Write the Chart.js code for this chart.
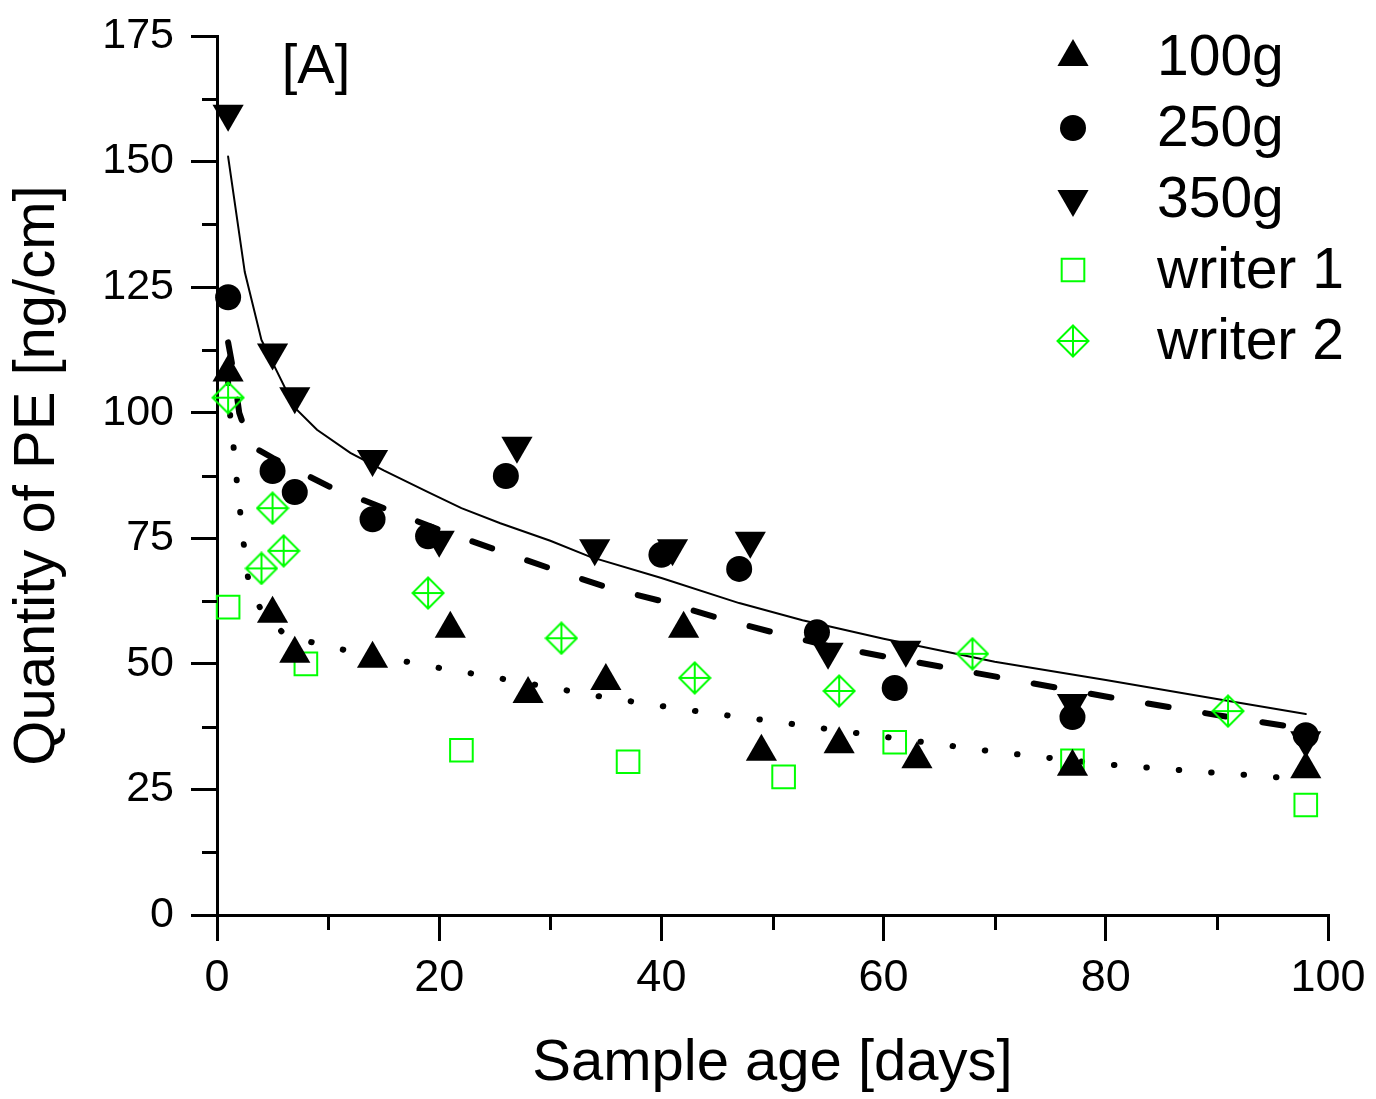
<!DOCTYPE html>
<html lang="en">
  <head>
    <meta charset="UTF-8" />
    <title>Quantity of PE vs sample age</title>
    <script src="https://cdn.jsdelivr.net/npm/chart.js"></script>
    <style>
      html, body { margin: 0; padding: 0; background: #fff; }
      #wrap { width: 1376px; height: 1099px; }
    </style>
  </head>
  <body>
    <div id="wrap"><canvas id="peChart" width="1376" height="1099"></canvas></div>

    <script>
      // Measured points (day, ng/cm)
      const days100 = [1, 5, 7, 14, 21, 28, 35, 42, 49, 56, 63, 77, 98];
      const pe100 = [108, 60, 52, 51, 57, 44, 46.6, 57, 32.5, 34, 31, 29.5, 29];

      const days250 = [1, 5, 7, 14, 19, 26, 40, 47, 54, 61, 77, 98];
      const pe250 = [123, 88.4, 84.2, 78.8, 75.4, 87.4, 71.7, 68.9, 56.3, 45.2, 39.4, 35.8];

      const days350 = [1, 5, 7, 14, 20, 27, 34, 41, 48, 55, 62, 77, 98];
      const pe350 = [159.5, 112, 103.3, 90.8, 74.7, 93.4, 73, 73, 74.5, 52.4, 52.8, 42.2, 34.8];

      const daysW1 = [1, 8, 22, 37, 51, 61, 77, 98];
      const peW1 = [61.3, 50, 32.8, 30.5, 27.5, 34.4, 30.7, 21.9];

      const daysW2 = [1, 4, 5, 6, 19, 31, 43, 56, 68, 91];
      const peW2 = [103, 69, 81, 72.5, 64.1, 55.1, 47.2, 44.6, 52, 40.6];

      // Fitted curves
      const fitDays350 = [1, 2.5, 4, 7, 9, 12, 15, 19, 22, 25.5, 30, 33.6, 40, 47, 52.7, 60, 70, 80, 90, 98];
      const fit350 = [151, 128, 114.5, 101, 96.6, 92, 88.5, 84.2, 81, 78, 74.5, 71.3, 67.1, 62.1, 58.7, 55, 50.4, 46.8, 43, 40];

      const fitDays250 = [1, 1.5, 2, 3, 5, 10, 15, 20, 25, 30, 35, 40, 45, 50, 55, 60, 70, 80, 90, 98];
      const fit250 = [114, 108, 100, 93.5, 91, 85.4, 81, 76.7, 72.8, 69, 65.3, 62.5, 59.2, 56.3, 53.6, 51.5, 47.5, 43.5, 39.8, 37];

      const fitDays100 = [1, 1.2, 1.5, 1.8, 2.1, 2.4, 2.8, 3.9, 6, 9, 12, 15, 20, 25, 30, 35, 40, 45, 50, 55, 60, 70, 80, 90, 98];
      const fit100 = [106, 99, 93, 86, 80, 74, 67, 61, 56, 54, 52.5, 51.3, 49.2, 47.3, 45.3, 43.3, 41.6, 40, 38.6, 37, 35.5, 32.5, 30, 28.3, 27];

      // Axis ticks
      const yMinorTicks = [12.5, 37.5, 62.5, 87.5, 112.5, 137.5, 162.5];
      const xMinorTicks = [10, 30, 50, 70, 90];

      const FONT = "'Liberation Sans', Arial, sans-serif";
      const GREEN = '#00ff00';

      const toXY = (xs, ys) => xs.map((x, i) => ({ x: x, y: ys[i] }));

      // diamond with a cross inside, used for writer 2
      function makeDiamond(size) {
        const c = document.createElement('canvas');
        c.width = c.height = size;
        const g = c.getContext('2d');
        const h = size / 2, r = h - 1.5;
        g.strokeStyle = GREEN;
        g.lineWidth = 2;
        g.beginPath();
        g.moveTo(h, h - r); g.lineTo(h + r, h); g.lineTo(h, h + r); g.lineTo(h - r, h); g.closePath();
        g.moveTo(h, h - r); g.lineTo(h, h + r);
        g.moveTo(h - r, h); g.lineTo(h + r, h);
        g.stroke();
        return c;
      }
      const diamondImg = makeDiamond(34);

      const markerSet = (label, xs, ys, style) => Object.assign({
        label: label,
        data: toXY(xs, ys),
        showLine: false,
        borderWidth: 0,
        backgroundColor: '#000',
        borderColor: '#000',
        pointBorderWidth: 0,
        clip: false
      }, style);

      const fitSet = (xs, ys, width, dash) => ({
        label: '',
        data: toXY(xs, ys),
        showLine: true,
        borderColor: '#000',
        borderWidth: width,
        borderDash: dash,
        borderCapStyle: 'round',
        pointRadius: 0,
        tension: 0,
        fill: false
      });

      // minor ticks, legend and panel tag
      const extras = {
        id: 'extras',
        afterDraw(chart) {
          const ctx = chart.ctx;
          const xs = chart.scales.x, ys = chart.scales.y;
          ctx.save();
          ctx.strokeStyle = '#000';
          ctx.lineWidth = 3;
          ctx.lineCap = 'butt';
          yMinorTicks.forEach(v => {
            const py = Math.round(ys.getPixelForValue(v)) + 0.5;
            ctx.beginPath(); ctx.moveTo(ys.right - 15, py); ctx.lineTo(ys.right, py); ctx.stroke();
          });
          xMinorTicks.forEach(v => {
            const px = Math.round(xs.getPixelForValue(v)) + 0.5;
            ctx.beginPath(); ctx.moveTo(px, xs.top); ctx.lineTo(px, xs.top + 15); ctx.stroke();
          });

          ctx.fillStyle = '#000';
          ctx.font = '56px ' + FONT;
          ctx.textAlign = 'center';
          ctx.textBaseline = 'middle';
          ctx.fillText('[A]', 316, 68);

          // legend
          ctx.textAlign = 'left';
          ctx.font = '57px ' + FONT;
          for (let i = 0; i < 5; i++) {
            const ds = chart.data.datasets[i];
            const y = 57 + i * 71;
            const opts = {
              pointStyle: ds.pointStyle,
              radius: ds.pointRadius,
              rotation: ds.pointRotation || 0,
              borderWidth: ds.pointBorderWidth
            };
            ctx.fillStyle = ds.backgroundColor;
            ctx.strokeStyle = ds.borderColor;
            ctx.lineWidth = ds.pointBorderWidth;
            Chart.helpers.drawPoint(ctx, opts, 1073, y);
            ctx.fillStyle = '#000';
            ctx.fillText(ds.label, 1157, y + 2);
          }
          ctx.restore();
        }
      };

      new Chart(document.getElementById('peChart'), {
        type: 'scatter',
        data: {
          datasets: [
            markerSet('100g', days100, pe100, { pointStyle: 'triangle', pointRadius: 18 }),
            markerSet('250g', days250, pe250, { pointStyle: 'circle', pointRadius: 13 }),
            markerSet('350g', days350, pe350, { pointStyle: 'triangle', pointRadius: 18, pointRotation: 180 }),
            markerSet('writer 1', daysW1, peW1, {
              pointStyle: 'rect', pointRadius: 16, backgroundColor: 'rgba(0,0,0,0)',
              borderColor: GREEN, pointBorderWidth: 2
            }),
            markerSet('writer 2', daysW2, peW2, {
              pointStyle: diamondImg, pointRadius: 17, backgroundColor: 'rgba(0,0,0,0)',
              borderColor: GREEN, pointBorderWidth: 2
            }),
            fitSet(fitDays350, fit350, 2, []),
            fitSet(fitDays250, fit250, 6, [21, 37]),
            fitSet(fitDays100, fit100, 6, [0.5, 32])
          ]
        },
        options: {
          responsive: false,
          animation: false,
          events: [],
          layout: { padding: { top: 36, right: 48, bottom: 0, left: 0 } },
          plugins: {
            legend: { display: false },
            tooltip: { enabled: false }
          },
          scales: {
            x: {
              type: 'linear',
              min: 0,
              max: 100,
              afterFit: s => { s.height = 184; s.paddingLeft = 0; s.paddingRight = 0; },
              border: { display: true, color: '#000', width: 3 },
              grid: { drawOnChartArea: false, drawTicks: true, tickLength: 26, lineWidth: 3, color: '#000' },
              ticks: { stepSize: 20, color: '#000', padding: 11, font: { family: FONT, size: 45 } },
              title: {
                display: true, text: 'Sample age [days]', color: '#000',
                font: { family: FONT, size: 58 }, padding: { top: 0, bottom: 0 }
              }
            },
            y: {
              type: 'linear',
              min: 0,
              max: 175,
              afterFit: s => { s.width = 217; s.paddingTop = 0; s.paddingBottom = 0; },
              border: { display: true, color: '#000', width: 3 },
              grid: { drawOnChartArea: false, drawTicks: true, tickLength: 26, lineWidth: 3, color: '#000' },
              ticks: { stepSize: 25, color: '#000', padding: 17, font: { family: FONT, size: 43 } },
              title: {
                display: true, text: 'Quantity of PE [ng/cm]', color: '#000',
                font: { family: FONT, size: 58 }, padding: { top: 3, bottom: 0 }
              }
            }
          }
        },
        plugins: [extras]
      });
    </script>
  </body>
</html>
